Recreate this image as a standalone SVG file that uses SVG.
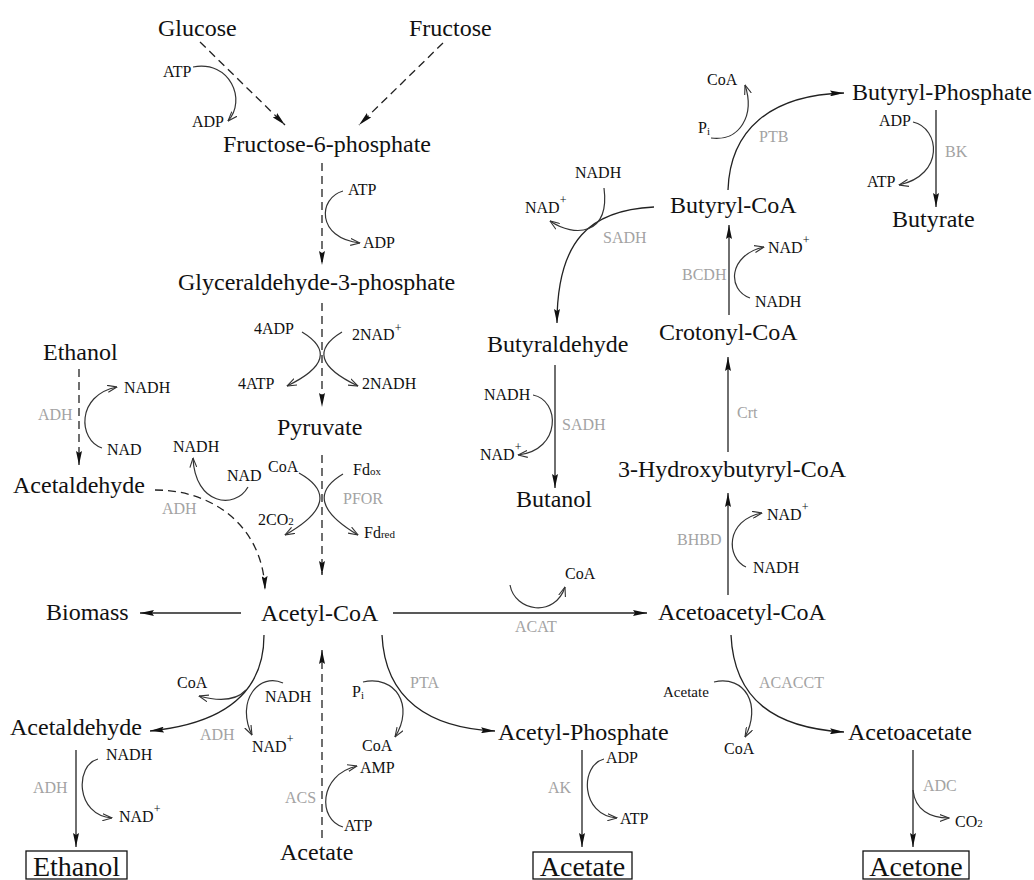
<svg xmlns="http://www.w3.org/2000/svg" width="1034" height="880" viewBox="0 0 1034 880">
<style>
  text { font-family: "Liberation Serif", "Times New Roman", serif; fill: #111; }
  .m { font-size: 24px; }
  .s { font-size: 16px; }
  .xs { font-size: 15px; }
  .e { font-size: 16px; fill: #a3a3a3; }
  .bx { font-size: 28px; text-anchor: middle; }
  .sup { font-size: 12px; }
  .sub { font-size: 11px; }
  .ln { fill: none; stroke: #222; stroke-width: 1.3; }
  .dl { fill: none; stroke: #222; stroke-width: 1.3; stroke-dasharray: 8 5; }
  .cf { fill: none; stroke: #333; stroke-width: 1.2; }
  .box { fill: none; stroke: #111; stroke-width: 1.3; }
  .fa { marker-end: url(#fa); }
  .oa { marker-end: url(#oa); }
</style>
<defs>
  <marker id="fa" viewBox="0 0 14 6" refX="14" refY="3" markerWidth="14" markerHeight="6" markerUnits="userSpaceOnUse" orient="auto">
    <path d="M0,0 L14,3 L0,6 L2,3 z" fill="#111"/>
  </marker>
  <marker id="oa" viewBox="0 0 10 8" refX="9.5" refY="4" markerWidth="10" markerHeight="8" markerUnits="userSpaceOnUse" orient="auto">
    <path d="M0,0.5 L9.5,4 L0,7.5" fill="none" stroke="#333" stroke-width="1.1"/>
  </marker>
</defs>
<rect width="1034" height="880" fill="#fff"/>

<g id="connectors">
  <path class="dl fa" d="M200,42 L285,125"/>
  <path class="dl fa" d="M443,43 L359,125"/>
  <path class="cf oa" d="M193,67 C230,60 247,100 228,121"/>
  <path class="dl fa" d="M322,163 L322,265"/>
  <path class="cf oa" d="M343,191 C318,198 316,238 360,243"/>
  <path class="dl fa" d="M322,303 L322,407"/>
  <path class="cf oa" d="M302,332 Q345,358 287,386"/>
  <path class="cf oa" d="M342,332 Q299,358 358,386"/>
  <path class="dl fa" d="M79,369 L79,465"/>
  <path class="cf oa" d="M102,448 C78,440 76,395 117,387"/>
  <path class="dl fa" d="M322,455 L322,575"/>
  <path class="cf oa" d="M299,473 Q347,500 285,535"/>
  <path class="cf oa" d="M343,474 Q299,500 358,535"/>
  <path class="dl fa" d="M155,490 C215,490 263,528 265,590"/>
  <path class="cf oa" d="M248,487 C235,510 195,505 193,458"/>
  <path class="ln fa" d="M241,613 L140,613"/>
  <path class="ln fa" d="M393,613 L647,613"/>
  <path class="cf oa" d="M510,585 C515,612 555,618 565,587"/>
  <path class="ln fa" d="M264,635 C264,680 240,722 150,731"/>
  <path class="cf oa" d="M246,690 Q232,705 199,696"/>
  <path class="cf oa" d="M283,683 C260,672 235,700 252,735"/>
  <path class="dl fa" d="M322,838 L322,650"/>
  <path class="cf oa" d="M343,827 C318,820 318,775 357,766"/>
  <path class="ln fa" d="M382,635 C385,700 430,728 495,731"/>
  <path class="cf oa" d="M363,682 C395,675 415,705 395,737"/>
  <path class="ln fa" d="M76,750 L76,847"/>
  <path class="cf oa" d="M98,759 C75,765 75,815 112,818"/>
  <path class="ln fa" d="M582,750 L582,847"/>
  <path class="cf oa" d="M604,759 C580,765 580,815 617,818"/>
  <path class="ln fa" d="M731,635 C734,700 775,728 844,732"/>
  <path class="cf oa" d="M714,682 C745,675 762,705 745,737"/>
  <path class="ln fa" d="M913,750 L913,847"/>
  <path class="cf oa" d="M913,790 C915,810 930,818 949,818"/>
  <path class="ln fa" d="M728,595 L728,493"/>
  <path class="cf oa" d="M746,567 C726,558 725,520 762,513"/>
  <path class="ln fa" d="M728,452 L728,357"/>
  <path class="ln fa" d="M555,365 L555,488"/>
  <path class="cf oa" d="M533,395 C560,400 562,450 518,455"/>
  <path class="ln fa" d="M729,315 L729,225"/>
  <path class="cf oa" d="M750,298 C727,290 728,255 764,247"/>
  <path class="ln fa" d="M654,207 C590,210 557,240 557,323"/>
  <path class="cf oa" d="M604,188 C610,235 575,238 550,221"/>
  <path class="ln fa" d="M728,190 C730,130 770,95 844,93"/>
  <path class="cf oa" d="M711,138 C740,142 755,115 745,85"/>
  <path class="ln fa" d="M936,110 L936,207"/>
  <path class="cf oa" d="M913,122 C940,128 945,175 899,185"/>
</g>

<g id="n-glucose"><text class="m" x="158" y="36">Glucose</text></g>
<g id="n-fructose"><text class="m" x="409" y="36">Fructose</text></g>
<g id="n-f6p"><text class="m" x="223" y="152">Fructose-6-phosphate</text></g>
<g id="n-g3p"><text class="m" x="178" y="290">Glyceraldehyde-3-phosphate</text></g>
<g id="n-ethanol-top"><text class="m" x="43" y="360">Ethanol</text></g>
<g id="n-pyruvate"><text class="m" x="277" y="435">Pyruvate</text></g>
<g id="n-acetaldehyde-top"><text class="m" x="13" y="493">Acetaldehyde</text></g>
<g id="n-biomass"><text class="m" x="46" y="620">Biomass</text></g>
<g id="n-acetylcoa"><text class="m" x="261" y="621">Acetyl-CoA</text></g>
<g id="n-acetoacetylcoa"><text class="m" x="658" y="620">Acetoacetyl-CoA</text></g>
<g id="n-acetaldehyde-low"><text class="m" x="10" y="735">Acetaldehyde</text></g>
<g id="n-acetylphosphate"><text class="m" x="498" y="740">Acetyl-Phosphate</text></g>
<g id="n-acetoacetate"><text class="m" x="848" y="740">Acetoacetate</text></g>
<g id="n-acetate-in"><text class="m" x="280" y="860">Acetate</text></g>
<g id="n-butyrylphosphate"><text class="m" x="852" y="100">Butyryl-Phosphate</text></g>
<g id="n-butyrylcoa"><text class="m" x="670" y="213">Butyryl-CoA</text></g>
<g id="n-butyrate"><text class="m" x="892" y="227">Butyrate</text></g>
<g id="n-butyraldehyde"><text class="m" x="487" y="352">Butyraldehyde</text></g>
<g id="n-crotonylcoa"><text class="m" x="659" y="340">Crotonyl-CoA</text></g>
<g id="n-butanol"><text class="m" x="516" y="507">Butanol</text></g>
<g id="n-hbcoa"><text class="m" x="618" y="477">3-Hydroxybutyryl-CoA</text></g>
<g id="n-ethanol-box"><rect class="box" x="26" y="851" width="101" height="28"/><text class="bx" x="76.5" y="876">Ethanol</text></g>
<g id="n-acetate-box"><rect class="box" x="533" y="852" width="99" height="27"/><text class="bx" x="582.5" y="876">Acetate</text></g>
<g id="n-acetone-box"><rect class="box" x="863" y="851" width="106" height="28"/><text class="bx" x="916" y="876">Acetone</text></g>

<g id="cofactors">
  <text class="s" x="163" y="77">ATP</text>
  <text class="s" x="192" y="127">ADP</text>
  <text class="s" x="348" y="195">ATP</text>
  <text class="s" x="363" y="248">ADP</text>
  <text class="s" x="254" y="334">4ADP</text>
  <text class="s" x="352" y="340">2NAD<tspan class="sup" dy="-8">+</tspan></text>
  <text class="s" x="238" y="389">4ATP</text>
  <text class="s" x="362" y="389">2NADH</text>
  <text class="s" x="124" y="393">NADH</text>
  <text class="s" x="107" y="455">NAD</text>
  <text class="s" x="173" y="452">NADH</text>
  <text class="s" x="227" y="481">NAD</text>
  <text class="s" x="268" y="472">CoA</text>
  <text class="s" x="353" y="475">Fd<tspan class="sub">ox</tspan></text>
  <text class="s" x="258" y="525">2CO<tspan class="sub">2</tspan></text>
  <text class="s" x="364" y="538">Fd<tspan class="sub">red</tspan></text>
  <text class="s" x="177" y="688">CoA</text>
  <text class="s" x="265" y="702">NADH</text>
  <text class="s" x="252" y="752">NAD<tspan class="sup" dy="-9">+</tspan></text>
  <text class="s" x="352" y="697">P<tspan class="sub" dy="2">i</tspan></text>
  <text class="s" x="362" y="751">CoA</text>
  <text class="s" x="360" y="773">AMP</text>
  <text class="s" x="344" y="831">ATP</text>
  <text class="s" x="106" y="760">NADH</text>
  <text class="s" x="119" y="822">NAD<tspan class="sup" dy="-9">+</tspan></text>
  <text class="s" x="606" y="763">ADP</text>
  <text class="s" x="620" y="824">ATP</text>
  <text class="s" x="565" y="579">CoA</text>
  <text class="xs" x="663" y="697">Acetate</text>
  <text class="s" x="724" y="754">CoA</text>
  <text class="s" x="955" y="827">CO<tspan class="sub">2</tspan></text>
  <text class="s" x="767" y="520">NAD<tspan class="sup" dy="-9">+</tspan></text>
  <text class="s" x="753" y="573">NADH</text>
  <text class="s" x="484" y="400">NADH</text>
  <text class="s" x="480" y="460">NAD<tspan class="sup" dy="-9">+</tspan></text>
  <text class="s" x="768" y="253">NAD<tspan class="sup" dy="-9">+</tspan></text>
  <text class="s" x="755" y="307">NADH</text>
  <text class="s" x="575" y="178">NADH</text>
  <text class="s" x="525" y="213">NAD<tspan class="sup" dy="-9">+</tspan></text>
  <text class="s" x="707" y="85">CoA</text>
  <text class="s" x="698" y="133">P<tspan class="sub" dy="2">i</tspan></text>
  <text class="s" x="879" y="126">ADP</text>
  <text class="s" x="867" y="187">ATP</text>
</g>

<g id="enzymes">
  <text class="e" x="38" y="420">ADH</text>
  <text class="e" x="343" y="504">PFOR</text>
  <text class="e" x="162" y="514">ADH</text>
  <text class="e" x="200" y="740">ADH</text>
  <text class="e" x="410" y="688">PTA</text>
  <text class="e" x="285" y="803">ACS</text>
  <text class="e" x="33" y="793">ADH</text>
  <text class="e" x="548" y="793">AK</text>
  <text class="e" x="515" y="632">ACAT</text>
  <text class="e" x="759" y="688">ACACCT</text>
  <text class="e" x="923" y="791">ADC</text>
  <text class="e" x="677" y="545">BHBD</text>
  <text class="e" x="737" y="418">Crt</text>
  <text class="e" x="562" y="430">SADH</text>
  <text class="e" x="682" y="280">BCDH</text>
  <text class="e" x="603" y="243">SADH</text>
  <text class="e" x="759" y="142">PTB</text>
  <text class="e" x="945" y="157">BK</text>
</g>
</svg>
